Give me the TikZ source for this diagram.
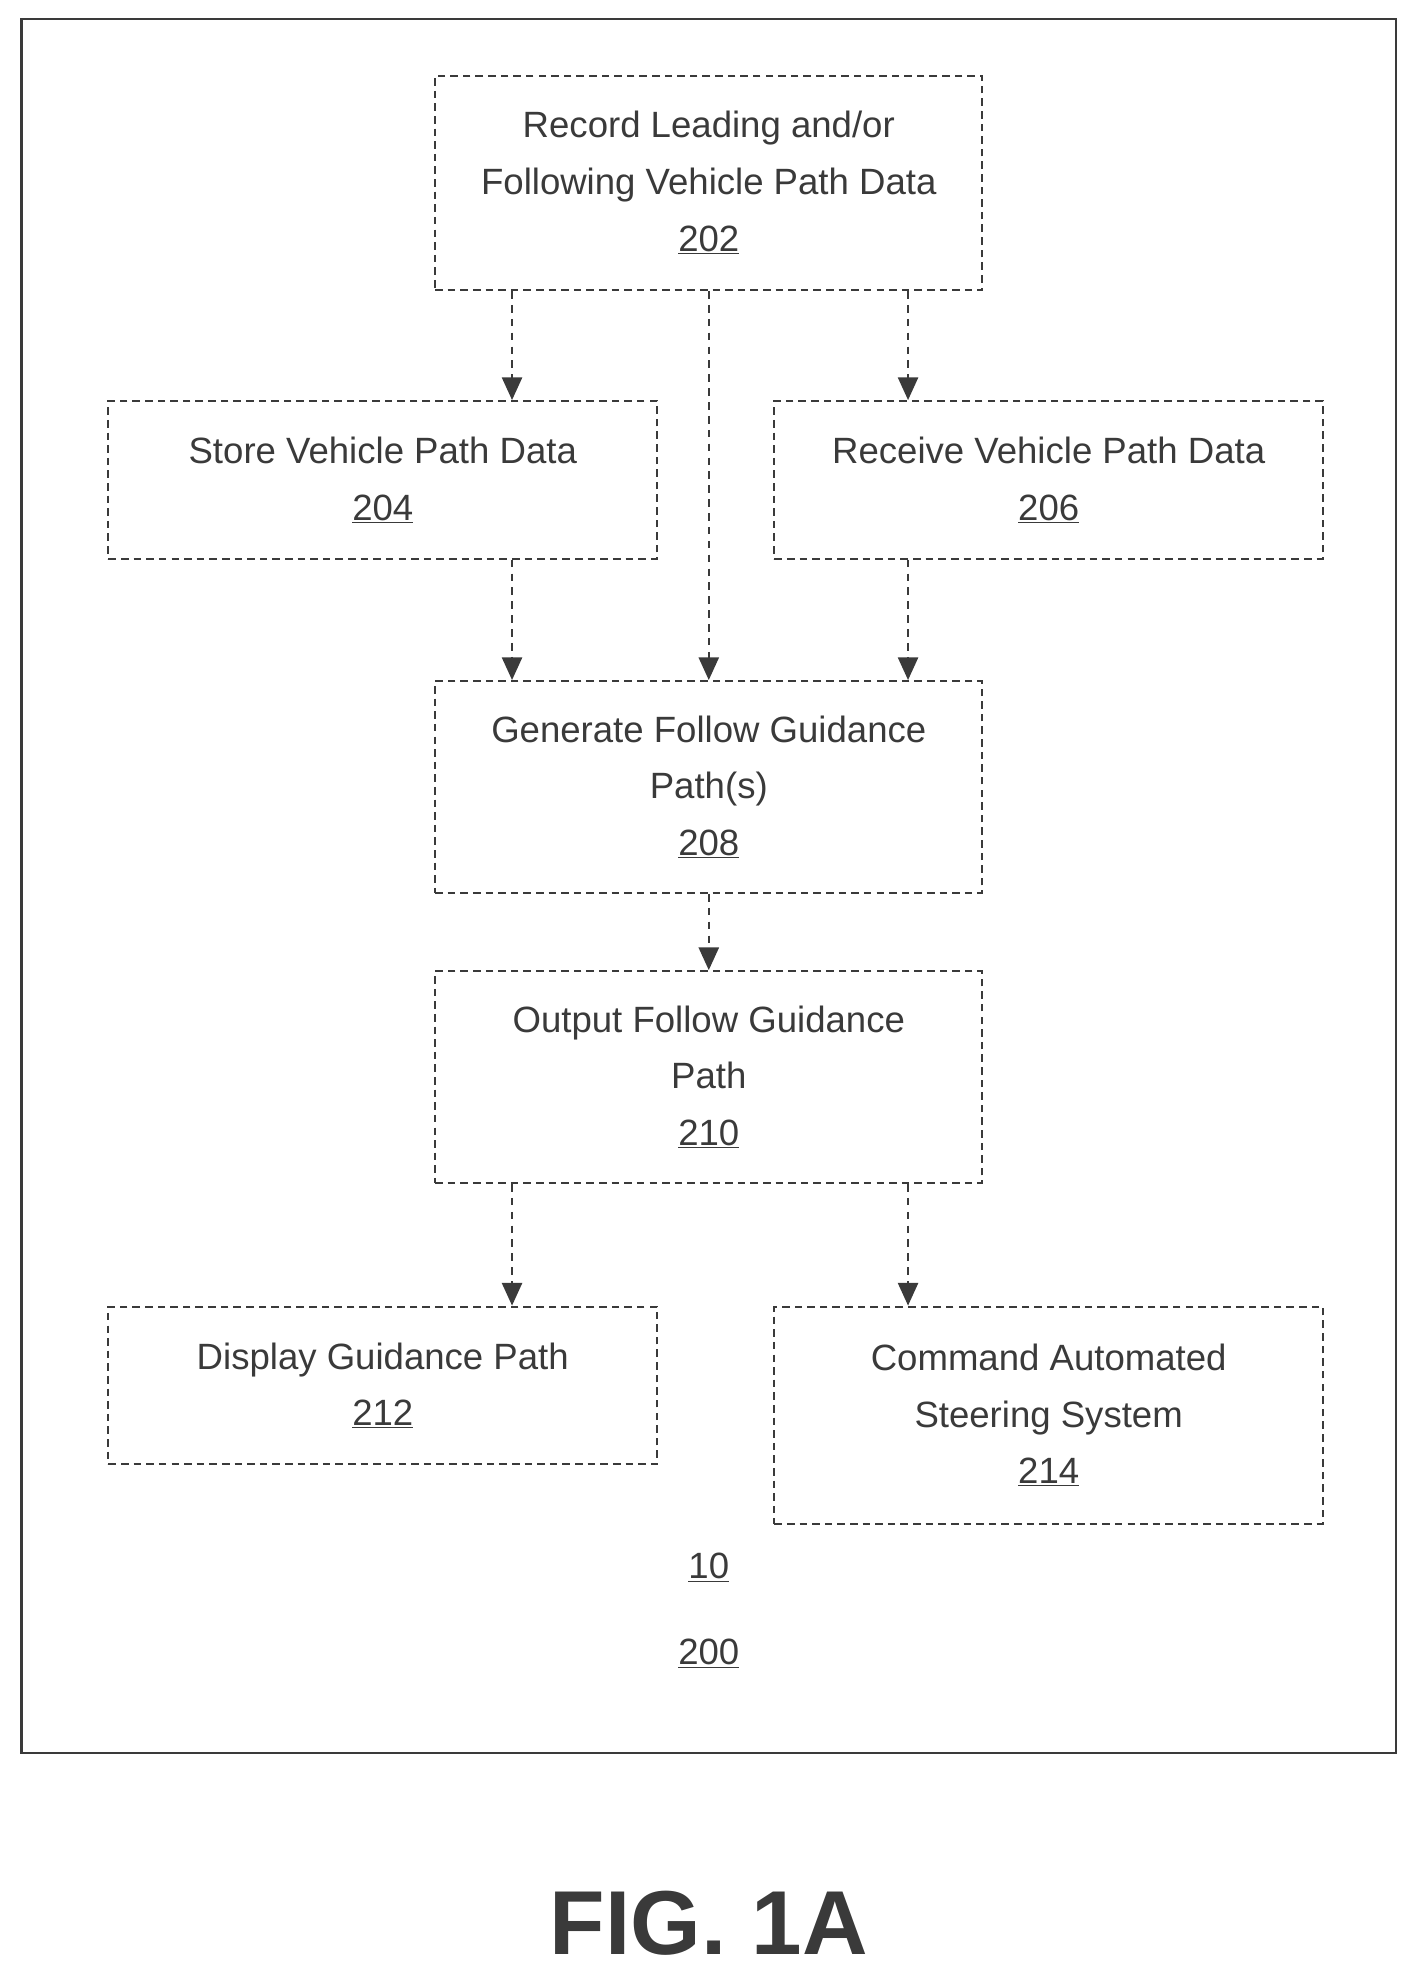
\documentclass[tikz,border=0pt]{standalone}
\usepackage{fontspec}
\setmainfont{Liberation Sans}
\usetikzlibrary{arrows.meta,positioning}
\definecolor{ink}{HTML}{3A3A3A}
\tikzstyle{blk} = [rectangle, draw=ink, line width=1.6pt, dash pattern=on 6pt off 4pt, text=ink, align=center, font=\fontsize{29}{45}\selectfont, inner sep=0pt]
\tikzstyle{line} = [draw=ink, line width=1.6pt, dash pattern=on 6pt off 5pt, -{Triangle[width=16pt,length=18pt,fill=ink]}]
\tikzstyle{lbl} = [text=ink, font=\fontsize{29}{45}\selectfont]
\newcommand{\num}[1]{\underline{#1}}
\begin{document}
\begin{tikzpicture}[x=1pt,y=-1pt]
\useasboundingbox (0,0) rectangle (1123,1566);
\draw [ink, line width=2pt] (17,15) rectangle (1107,1390);

\node [blk, minimum width=434pt, minimum height=170pt] (rec) at (562,145) {Record Leading and/or\\Following Vehicle Path Data\\\num{202}};
\node [blk, minimum width=435pt, minimum height=125pt] (store) at (303.5,380.5) {Store Vehicle Path Data\\\num{204}};
\node [blk, minimum width=435pt, minimum height=125pt] (recv) at (831.5,380.5) {Receive Vehicle Path Data\\\num{206}};
\node [blk, minimum width=434pt, minimum height=168pt] (gen) at (562,624) {Generate Follow Guidance\\Path(s)\\\num{208}};
\node [blk, minimum width=434pt, minimum height=168pt] (out) at (562,854) {Output Follow Guidance\\Path\\\num{210}};
\node [blk, minimum width=435pt, minimum height=125pt] (disp) at (303.5,1098.5) {Display Guidance Path\\\num{212}};
\node [blk, minimum width=435pt, minimum height=172pt] (cmd) at (831.5,1122) {Command Automated\\Steering System\\\num{214}};

\node [lbl] (sys) at (562,1243) {\num{10}};
\node [lbl] (meth) at (562,1311) {\num{200}};
\node [text=ink, font=\fontsize{72}{80}\selectfont\bfseries] (fig) at (562,1525) {FIG. 1A};

% columns of the arrows
\coordinate (colL) at (406,0);
\coordinate (colM) at (562,0);
\coordinate (colR) at (720,0);

\path [line] (rec.south -| colL) to (store.north -| colL);
\path [line] (rec.south -| colM) to (gen.north -| colM);
\path [line] (rec.south -| colR) to (recv.north -| colR);
\path [line] (store.south -| colL) to (gen.north -| colL);
\path [line] (recv.south -| colR) to (gen.north -| colR);
\path [line] (gen.south) to (out.north);
\path [line] (out.south -| colL) to (disp.north -| colL);
\path [line] (out.south -| colR) to (cmd.north -| colR);
\end{tikzpicture}
\end{document}
